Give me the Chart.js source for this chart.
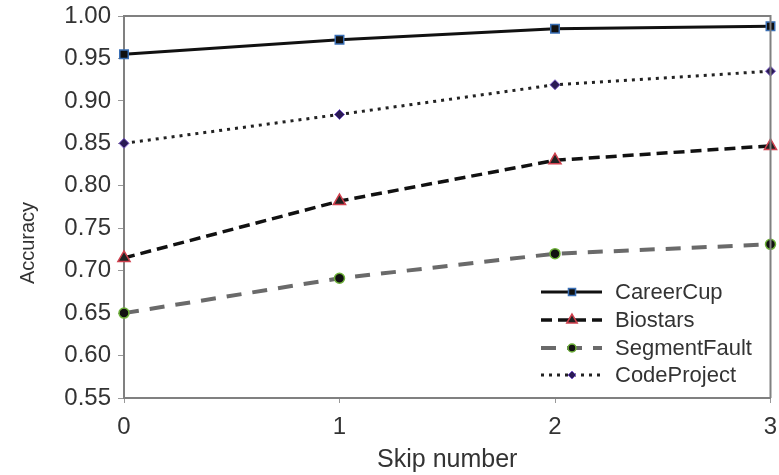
<!DOCTYPE html>
<html>
<head>
<meta charset="utf-8">
<script src="https://cdn.jsdelivr.net/npm/chart.js@4"></script>
<style>
body { margin: 0; background: #fff; }
#wrap { width: 779px; height: 475px; }
</style>
</head>
<body>
<div id="wrap"><canvas id="c" width="779" height="475"></canvas></div>
<script>
// data
let skipNumbers = [0, 1, 2, 3];
let careerCup = [0.955, 0.972, 0.985, 0.988];
let biostars = [0.715, 0.782, 0.830, 0.847];
let segmentFault = [0.650, 0.691, 0.720, 0.731];
let codeProject = [0.850, 0.884, 0.919, 0.935];

function pts(vals) {
  return vals.map((v, i) => ({x: skipNumbers[i], y: v}));
}

const FONT = "'Liberation Sans', Arial, sans-serif";

let series = [
  {label: 'CareerCup', data: pts(careerCup), borderColor: '#111', borderWidth: 3, borderDash: [],
   pointStyle: 'rect', pointRadius: 6, pointBackgroundColor: '#111', pointBorderColor: '#3a6fb5', pointBorderWidth: 1.5},
  {label: 'Biostars', data: pts(biostars), borderColor: '#111', borderWidth: 3.5, borderDash: [11, 6],
   pointStyle: 'triangle', pointRadius: 7, pointBackgroundColor: '#222', pointBorderColor: '#d0404e', pointBorderWidth: 1.5},
  {label: 'SegmentFault', data: pts(segmentFault), borderColor: '#6a6a6a', borderWidth: 4, borderDash: [15, 11],
   pointStyle: 'circle', pointRadius: 5, pointBackgroundColor: '#111', pointBorderColor: '#6fb23a', pointBorderWidth: 1.5},
  {label: 'CodeProject', data: pts(codeProject), borderColor: '#222', borderWidth: 3, borderDash: [3, 5],
   pointStyle: 'rectRot', pointRadius: 5, pointBackgroundColor: '#2a1a55', pointBorderColor: '#7a5ac8', pointBorderWidth: 1}
];

series.forEach(s => { s.fill = false; s.tension = 0; s.clip = false; });

const framePlugin = {
  id: 'frame',
  afterDraw(chart) {
    const ctx = chart.ctx, a = chart.chartArea;
    ctx.save();
    ctx.strokeStyle = '#808080';
    ctx.lineWidth = 2;
    ctx.beginPath();
    ctx.moveTo(a.left, a.top); ctx.lineTo(a.right, a.top); ctx.lineTo(a.right, a.bottom);
    ctx.stroke();

    // legend, inside bottom right
    let x0 = 541, x1 = 602, rows = [292, 320, 348, 375];
    chart.data.datasets.forEach((ds, i) => {
      let y = rows[i];
      ctx.strokeStyle = ds.borderColor;
      ctx.lineWidth = ds.borderWidth;
      ctx.setLineDash(ds.borderDash);
      ctx.beginPath(); ctx.moveTo(x0, y); ctx.lineTo(x1, y); ctx.stroke();
      ctx.setLineDash([]);
      ctx.fillStyle = ds.pointBackgroundColor;
      ctx.strokeStyle = ds.pointBorderColor;
      ctx.lineWidth = ds.pointBorderWidth;
      Chart.helpers.drawPoint(ctx, {pointStyle: ds.pointStyle, radius: ds.pointRadius - 1, borderWidth: ds.pointBorderWidth, rotation: 0}, 572, y);
      ctx.fillStyle = '#333';
      ctx.font = '22px ' + FONT;
      ctx.textBaseline = 'middle';
      ctx.textAlign = 'left';
      ctx.fillText(ds.label, 615, y + 1);
    });

    // y axis title
    ctx.translate(28, 243);
    ctx.rotate(-Math.PI / 2);
    ctx.fillStyle = '#333';
    ctx.font = '20px ' + FONT;
    ctx.textAlign = 'center';
    ctx.textBaseline = 'middle';
    ctx.fillText('Accuracy', 0, 0);
    ctx.restore();
  }
};

new Chart(document.getElementById('c').getContext('2d'), {
  type: 'line',
  data: {datasets: series},
  options: {
    responsive: false,
    animation: false,
    layout: {padding: {top: 16, right: 6, left: 0, bottom: 0}},
    plugins: {legend: {display: false}, tooltip: {enabled: false}},
    elements: {line: {borderCapStyle: 'butt'}},
    scales: {
      x: {
        type: 'linear', min: 0, max: 3,
        ticks: {stepSize: 1, color: '#333', font: {family: FONT, size: 24}, padding: 10},
        grid: {display: true, drawOnChartArea: false, drawTicks: true, tickLength: 5, color: '#999'},
        border: {display: true, color: '#808080', width: 2},
        title: {display: true, text: 'Skip number', color: '#333', font: {family: FONT, size: 25}, padding: {top: 0, bottom: 0}},
        afterFit(s) { s.height = 77; s.paddingLeft = 0; s.paddingRight = 0; }
      },
      y: {
        min: 0.55, max: 1.0,
        ticks: {stepSize: 0.05, color: '#333', font: {family: FONT, size: 24}, padding: 7,
          callback: v => v.toFixed(2)},
        grid: {display: true, drawOnChartArea: false, drawTicks: true, tickLength: 6, color: '#999'},
        border: {display: true, color: '#808080', width: 2},
        afterFit(s) { s.width = 124; s.paddingTop = 0; s.paddingBottom = 0; }
      }
    }
  },
  plugins: [framePlugin]
});
</script>
</body>
</html>
